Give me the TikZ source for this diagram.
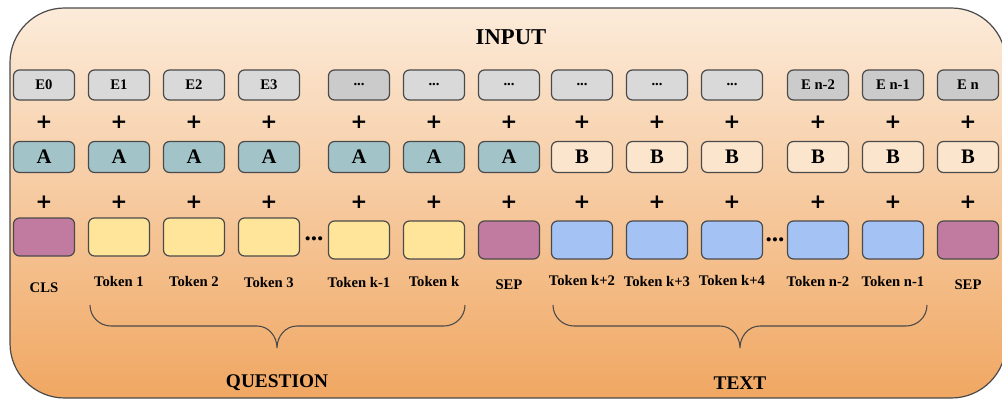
\documentclass[tikz,border=0pt]{standalone}
\usepackage{fontspec}
\setmainfont{Liberation Serif}
\newfontfamily\plusfont{DejaVu Sans}
\usepackage{xcolor}
\usepackage{tikz}
\usetikzlibrary{positioning,calc}

\definecolor{boxline}{HTML}{4A4A4A}
\definecolor{greyl}{HTML}{D9D9D9}
\definecolor{greyd}{HTML}{CBCBCB}
\definecolor{segteal}{HTML}{A2C4C9}
\definecolor{segcream}{HTML}{FCE5CD}
\definecolor{sepmauve}{HTML}{C27BA0}
\definecolor{qyellow}{HTML}{FFE599}
\definecolor{tblue}{HTML}{A4C2F4}
\definecolor{bgtop}{HTML}{FCEBDA}
\definecolor{bgbottom}{HTML}{F0A762}

% placeholder text for elided embeddings
\newcommand{\edots}{...}

% curly brace under a run of tokens: left x, right x, tip x
\newcommand{\tokbrace}[3]{%
  \draw[brace] (#1,305) to[out=-90,in=180] (#1+21,326) -- (#3-20,326)
    to[out=0,in=90] (#3,348) to[out=90,in=180] (#3+20,326)
    -- (#2-21,326) to[out=0,in=-90] (#2,305);}

\begin{document}
\begin{tikzpicture}[x=0.75pt, y=-0.75pt, font=\bfseries]
  \tikzset{
    box/.style={draw=boxline, line width=0.9pt, rounded corners=4.5pt, minimum width=45.75pt, inner sep=0pt},
    emb/.style={box, fill=greyl, minimum height=22.5pt, font=\fontsize{11}{13}\selectfont\bfseries},
    embd/.style={emb, fill=greyd},
    segA/.style={box, fill=segteal, minimum height=23.25pt, font=\fontsize{15.5}{17}\selectfont\bfseries},
    segB/.style={segA, fill=segcream},
    tokbox/.style={box, minimum height=28.5pt},
    tokc/.style={tokbox, fill=sepmauve},
    tokq/.style={tokbox, fill=qyellow},
    tokt/.style={tokbox, fill=tblue},
    plus/.style={font=\plusfont\fontsize{15}{15}\selectfont\bfseries},
    toklab/.style={font=\fontsize{11}{13}\selectfont\bfseries},
    group/.style={font=\fontsize{14.5}{16}\selectfont\bfseries},
    gap/.style={font=\fontsize{19}{19}\selectfont\bfseries, inner sep=0pt},
    brace/.style={draw=boxline, line width=0.8pt},
  }
  \useasboundingbox (0,0) rectangle (1002,399);

  % background panel
  \draw[draw=boxline, line width=0.9pt, rounded corners=41pt, top color=bgtop, bottom color=bgbottom]
    (10,8) rectangle (1006,398);
  \node[font=\fontsize{17}{19}\selectfont\bfseries] (input) at (511,37) {INPUT};

  % one column per position: embedding, segment, token, label
  \foreach \x/\ty/\es/\e/\ss/\sg/\ts/\lab/\ly [count=\i from 0] in {
      44/237/emb/E0/segA/A/tokc/CLS/288,
      119/237/emb/E1/segA/A/tokq/Token 1/281,
      194/237/emb/E2/segA/A/tokq/Token 2/281,
      269/237/emb/E3/segA/A/tokq/Token 3/282,
      359/240/embd/\edots/segA/A/tokq/Token k-1/282,
      434/240/emb/\edots/segA/A/tokq/Token k/281,
      509/240/emb/\edots/segA/A/tokc/SEP/285,
      582/240/emb/\edots/segB/B/tokt/Token k+2/280,
      657/240/emb/\edots/segB/B/tokt/Token k+3/281,
      732/240/emb/\edots/segB/B/tokt/Token k+4/280,
      818/240/embd/E n-2/segB/B/tokt/Token n-2/281,
      893/240/embd/E n-1/segB/B/tokt/Token n-1/281,
      968/240/embd/E n/segB/B/tokc/SEP/285} {
    \node[\es] (e\i) at (\x,85) {\e};
    \node[plus] (pa\i) at (\x,122) {+};
    \node[\ss] (s\i) at (\x,157) {\sg};
    \node[plus] (pb\i) at (\x,202) {+};
    \node[\ts] (t\i) at (\x,\ty) {};
    \node[toklab] (l\i) at (\x,\ly) {\lab};
  }

  % skipped tokens
  \node[gap] (gapq) at ($(t3.east)!0.5!(t4.west)$) {\edots};
  \node[gap] (gapt) at ($(t9.east)!0.5!(t10.west)$) {\edots};

  % question and text spans
  \tokbrace{90}{465}{277}
  \tokbrace{553}{927}{740}
  \node[group] (question) at (277,383) {QUESTION};
  \node[group] (text) at (740,383) {TEXT};
\end{tikzpicture}
\end{document}
